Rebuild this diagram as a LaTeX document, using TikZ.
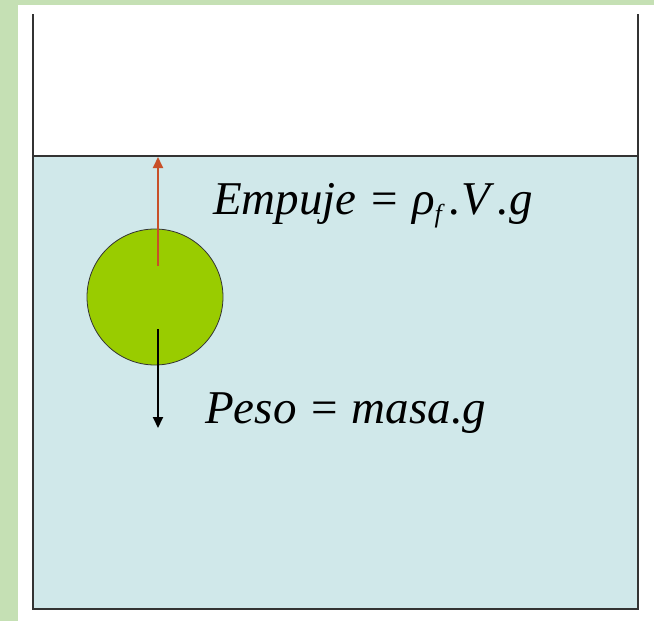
\documentclass[tikz,border=0pt]{standalone}
\usepackage{fontspec}
\setmainfont{Liberation Serif}
\usepackage{tikz}
\usetikzlibrary{positioning,arrows.meta,calc}
\definecolor{slidegreen}{RGB}{197,224,180}
\definecolor{watercol}{RGB}{208,232,234}
\definecolor{ballcol}{RGB}{153,204,0}
\definecolor{wallcol}{RGB}{51,51,51}
\definecolor{buoycol}{RGB}{200,80,40}
\begin{document}
\begin{tikzpicture}[x=1pt,y=-1pt,
  wall/.style={draw=wallcol,line width=2pt},
  ball/.style={circle,draw=black!80,line width=0.8pt,fill=ballcol,minimum size=136pt,inner sep=0pt},
  force/.style={line width=2pt,-{Triangle[width=10pt,length=11pt]}},
  formula/.style={anchor=base west,inner sep=0pt,font=\fontsize{47}{54}\selectfont\itshape}
]
\useasboundingbox (0,0) rectangle (654,621);

% Slide background
\fill[white] (0,0) rectangle (654,621);
\fill[slidegreen] (0,0) rectangle (18,621);
\fill[slidegreen] (0,0) rectangle (654,5);

% Water in the tank
\fill[watercol] (33,156) rectangle (638,609);
\coordinate (surfL) at (33,156);
\coordinate (surfR) at (638,156);
\draw[wall] (surfL) -- (surfR);

% Tank walls
\draw[wall] (33,14) -- (33,609) -- (638,609) -- (638,14);

% Floating body
\node[ball] (ball) at (155,297) {};

% Forces
\coordinate (upstart) at ($(ball.center)+(3,-31)$);
\coordinate (uptip) at ($(ball.center)+(3,-140)$);
\coordinate (downstart) at ($(ball.center)+(3,32)$);
\coordinate (downtip) at ($(ball.center)+(3,131)$);
\draw[force,buoycol] (upstart) -- (uptip);
\draw[force,black] (downstart) -- (downtip);

% Labels
\node[formula] (empuje) at (213,214) {Empuje = ρ\raisebox{-0.4ex}{\fontsize{26}{30}\selectfont\itshape f}\,.V\,.g};
\node[formula] (peso) at (205,423) {Peso = masa.g};
\end{tikzpicture}
\end{document}
